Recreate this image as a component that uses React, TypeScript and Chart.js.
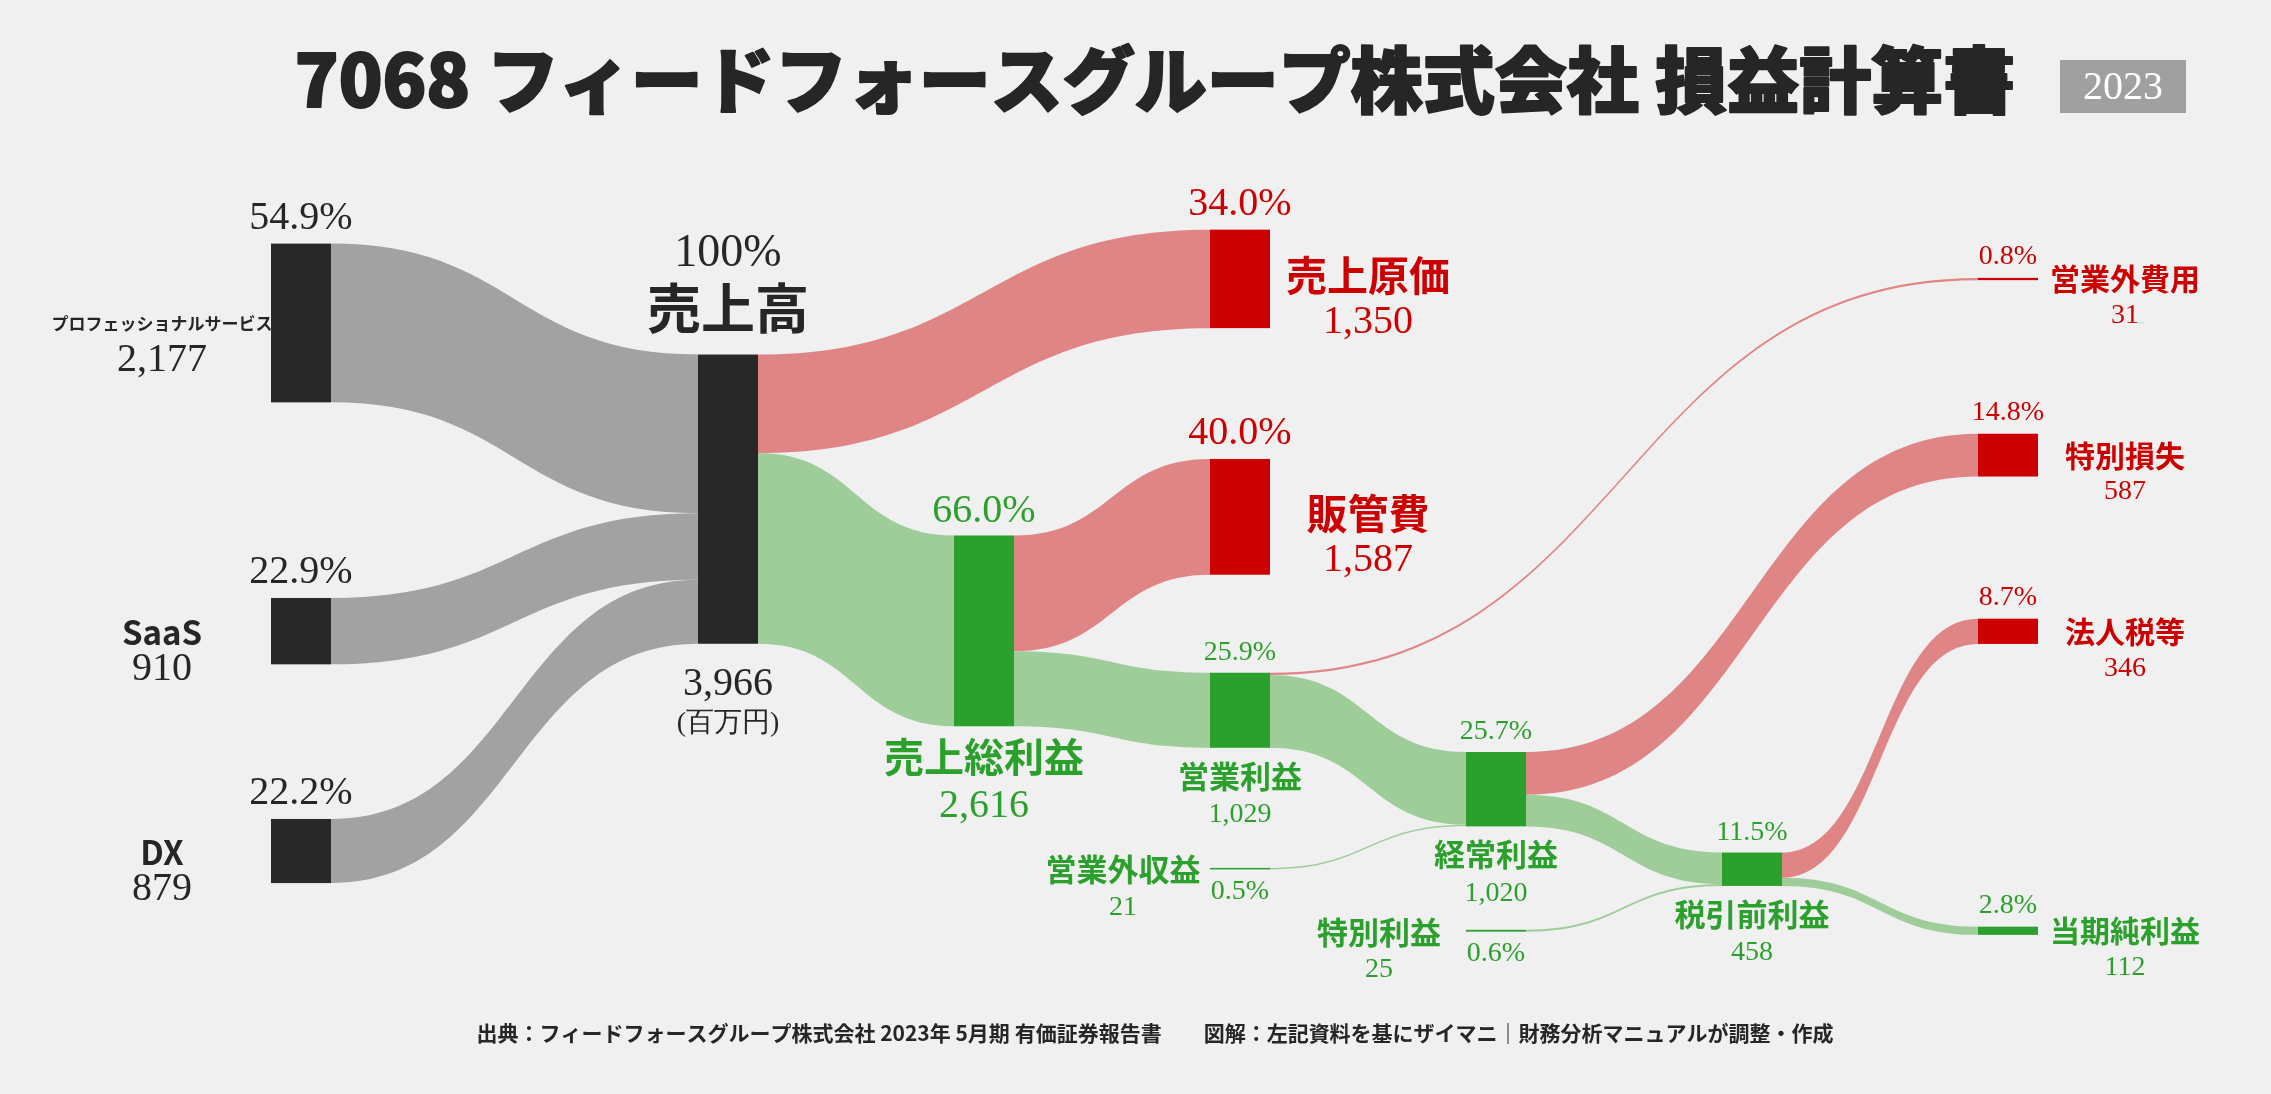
import React, { useEffect, useRef } from 'react';
import { Chart, registerables } from 'chart.js';

Chart.register(...registerables);

// ---------------- data ----------------
const TITLE = '7068 フィードフォースグループ株式会社 損益計算書';
const YEAR_LABEL = '2023';
const FOOTER =
  '出典：フィードフォースグループ株式会社 2023年 5月期 有価証券報告書　　図解：左記資料を基にザイマニ｜財務分析マニュアルが調整・作成';
const UNIT_LABEL = '(百万円)';

const NODE_NAMES = [
  'プロフェッショナルサービス', 'SaaS', 'DX', '売上高', '売上原価', '売上総利益', '販管費', '営業利益',
  '営業外収益', '営業外費用', '経常利益', '特別利益', '特別損失', '税引前利益', '法人税等', '当期純利益',
];
const NODE_VALUES = [2177, 910, 879, 3966, 1350, 2616, 1587, 1029, 21, 31, 1020, 25, 587, 458, 346, 112];
const NODE_PCT_LABELS = [
  '54.9%', '22.9%', '22.2%', '100%', '34.0%', '66.0%', '40.0%', '25.9%',
  '0.5%', '0.8%', '25.7%', '0.6%', '14.8%', '11.5%', '8.7%', '2.8%',
];
const NODE_VALUE_LABELS = [
  '2,177', '910', '879', '3,966', '1,350', '2,616', '1,587', '1,029',
  '21', '31', '1,020', '25', '587', '458', '346', '112',
];
const NODE_KIND = [
  'segment', 'segment', 'segment', 'revenue', 'cost', 'profit', 'cost', 'profit',
  'profit', 'cost', 'profit', 'profit', 'cost', 'profit', 'cost', 'profit',
];

const FLOW_SOURCE = [0, 1, 2, 3, 3, 5, 5, 7, 7, 8, 10, 10, 11, 13, 13];
const FLOW_TARGET = [3, 3, 3, 4, 5, 6, 7, 9, 10, 10, 12, 13, 13, 14, 15];
const FLOW_VALUE = [2177, 910, 879, 1350, 2616, 1587, 1029, 31, 998, 21, 587, 433, 25, 346, 112];

// ---------------- layout (positions / styles) ----------------
const W = 2271;
const H = 1094;
const BG = '#f0f0f0';
const COLUMN_X = [0, 1.668, 2.668, 3.668, 4.668, 5.668, 6.668];
const NODE_COLUMN = [0, 0, 0, 1, 3, 2, 3, 3, 3, 6, 4, 4, 6, 5, 6, 6];
const NODE_TOP = [3340, 8199, 11229, 4861, 3149, 7342, 6293, 9224, 11900, 3810, 10311, 12749, 5947, 11689, 8483, 12706];
const NODE_LABEL_STYLE = [
  'left', 'left', 'left', 'top', 'right', 'below', 'right', 'below',
  'leftBelow', 'right', 'below', 'leftBelow', 'right', 'below', 'right', 'right',
];
const NODE_LABEL_SIZE = ['L', 'L', 'L', 'XL', 'L', 'L', 'L', 'S', 'S', 'S', 'S', 'S', 'S', 'S', 'S', 'S'];
const NODE_NAME_FONT = [17, 33, 33, 54, 41, 40, 41, 31, 31, 30, 31, 31, 30, 31, 30, 30];
const NODE_W = 60;

const X_MIN = -301 / 256;
const X_MAX = X_MIN + W / 256;
const Y_MAX = 15000;

const SERIF = "'Liberation Serif', 'DejaVu Serif', serif";
const SANS = "'Noto Sans CJK JP', 'Noto Sans', sans-serif";

const NODE_COLOR: Record<string, string> = { segment: '#282828', revenue: '#282828', cost: '#cc0000', profit: '#2ca02c' };
const TEXT_COLOR: Record<string, string> = { segment: '#262626', revenue: '#262626', cost: '#cc0000', profit: '#2ca02c' };
const FLOW_COLOR: Record<string, string> = { segment: '#a2a2a2', revenue: '#a2a2a2', cost: '#e08585', profit: '#9ecd9a' };

function drawText(
  ctx: CanvasRenderingContext2D, s: string, x: number, y: number, font: string, color: string,
  stroke = 0,
) {
  ctx.font = font;
  ctx.fillStyle = color;
  ctx.textAlign = 'center';
  ctx.textBaseline = 'middle';
  if (stroke > 0) {
    ctx.strokeStyle = color;
    ctx.lineWidth = stroke;
    ctx.lineJoin = 'round';
    ctx.strokeText(s, x, y);
  }
  ctx.fillText(s, x, y);
}

const sankeyPlugin = {
  id: 'sankeyDraw',
  beforeDraw(chart: any) {
    const ctx = chart.ctx as CanvasRenderingContext2D;
    ctx.save();
    ctx.fillStyle = BG;
    ctx.fillRect(0, 0, chart.width, chart.height);
    ctx.restore();
  },
  afterDatasetsDraw(chart: any) {
    const ctx = chart.ctx as CanvasRenderingContext2D;
    const xs = chart.scales.x;
    const ys = chart.scales.y;
    ctx.save();

    const geo = NODE_VALUES.map((v, i) => {
      const cx = xs.getPixelForValue(COLUMN_X[NODE_COLUMN[i]]);
      const top = ys.getPixelForValue(NODE_TOP[i]);
      const bot = ys.getPixelForValue(NODE_TOP[i] + v);
      return { cx, top, bot, cy: (top + bot) / 2 };
    });
    const outOff = NODE_TOP.slice();
    const inOff = NODE_TOP.slice();

    // flows
    FLOW_VALUE.forEach((v, f) => {
      const s = FLOW_SOURCE[f];
      const t = FLOW_TARGET[f];
      const s0 = ys.getPixelForValue(outOff[s]);
      const s1 = ys.getPixelForValue(outOff[s] + v);
      outOff[s] += v;
      const t0 = ys.getPixelForValue(inOff[t]);
      const t1 = ys.getPixelForValue(inOff[t] + v);
      inOff[t] += v;
      const x0 = geo[s].cx + NODE_W / 2;
      const x1 = geo[t].cx - NODE_W / 2;
      const xm = (x0 + x1) / 2;
      ctx.beginPath();
      ctx.moveTo(x0, s0);
      ctx.bezierCurveTo(xm, s0, xm, t0, x1, t0);
      ctx.lineTo(x1, t1);
      ctx.bezierCurveTo(xm, t1, xm, s1, x0, s1);
      ctx.closePath();
      ctx.fillStyle = FLOW_COLOR[NODE_KIND[t]];
      ctx.fill();
    });

    // nodes
    geo.forEach((g, i) => {
      ctx.fillStyle = NODE_COLOR[NODE_KIND[i]];
      ctx.fillRect(g.cx - NODE_W / 2, g.top, NODE_W, Math.max(g.bot - g.top, 1.2));
    });

    // labels
    geo.forEach((g, i) => {
      const col = TEXT_COLOR[NODE_KIND[i]];
      const style = NODE_LABEL_STYLE[i];
      const size = NODE_LABEL_SIZE[i];
      const nameFont = `bold ${NODE_NAME_FONT[i]}px ${SANS}`;
      const numL = `40px ${SERIF}`;
      const numS = `28px ${SERIF}`;
      if (style === 'left') {
        drawText(ctx, NODE_PCT_LABELS[i], g.cx, g.top - 25, numL, col);
        drawText(ctx, NODE_NAMES[i], g.cx - 139, g.cy + 1, nameFont, col);
        drawText(ctx, NODE_VALUE_LABELS[i], g.cx - 139, g.cy + 38, numL, col);
      } else if (style === 'top') {
        drawText(ctx, NODE_PCT_LABELS[i], g.cx, g.top - 101, `46px ${SERIF}`, col);
        drawText(ctx, NODE_NAMES[i], g.cx, g.top - 46, nameFont, col);
        drawText(ctx, NODE_VALUE_LABELS[i], g.cx, g.bot + 41, numL, col);
        drawText(ctx, UNIT_LABEL, g.cx, g.bot + 80, `28px ${SERIF}`, col);
      } else if (style === 'below') {
        if (size === 'L') {
          drawText(ctx, NODE_PCT_LABELS[i], g.cx, g.top - 24, numL, col);
          drawText(ctx, NODE_NAMES[i], g.cx, g.bot + 31, nameFont, col);
          drawText(ctx, NODE_VALUE_LABELS[i], g.cx, g.bot + 80, numL, col);
        } else {
          drawText(ctx, NODE_PCT_LABELS[i], g.cx, g.top - 20, numS, col);
          drawText(ctx, NODE_NAMES[i], g.cx, g.bot + 28, nameFont, col);
          drawText(ctx, NODE_VALUE_LABELS[i], g.cx, g.bot + 67, numS, col);
        }
      } else if (style === 'right') {
        if (size === 'L') {
          drawText(ctx, NODE_PCT_LABELS[i], g.cx, g.top - 25, numL, col);
          drawText(ctx, NODE_NAMES[i], g.cx + 128, g.cy - 3, nameFont, col);
          drawText(ctx, NODE_VALUE_LABELS[i], g.cx + 128, g.cy + 44, numL, col);
        } else {
          drawText(ctx, NODE_PCT_LABELS[i], g.cx, g.top - 21, numS, col);
          drawText(ctx, NODE_NAMES[i], g.cx + 117, g.cy, nameFont, col);
          drawText(ctx, NODE_VALUE_LABELS[i], g.cx + 117, g.cy + 37, numS, col);
        }
      } else if (style === 'leftBelow') {
        drawText(ctx, NODE_NAMES[i], g.cx - 117, g.cy + 1, nameFont, col);
        drawText(ctx, NODE_VALUE_LABELS[i], g.cx - 117, g.cy + 39, numS, col);
        drawText(ctx, NODE_PCT_LABELS[i], g.cx, g.bot + 22, numS, col);
      }
    });

    // title
    drawText(ctx, TITLE, 1155, 80, `900 72px ${SANS}`, '#262626', 2);
    ctx.fillStyle = '#a0a0a0';
    ctx.fillRect(2060, 60, 126, 53);
    drawText(ctx, YEAR_LABEL, 2123, 88, `40px ${SERIF}`, '#ffffff');

    // footer
    drawText(ctx, FOOTER, 1155, 1033, `bold 21px ${SANS}`, '#262626');

    ctx.restore();
  },
};

export default function App() {
  const ref = useRef<HTMLCanvasElement>(null);
  useEffect(() => {
    document.body.style.margin = '0';
    document.body.style.overflow = 'hidden';
    const chart = new Chart(ref.current as HTMLCanvasElement, {
      type: 'scatter',
      data: {
        datasets: [
          {
            data: NODE_VALUES.map((v, i) => ({ x: COLUMN_X[NODE_COLUMN[i]], y: NODE_TOP[i] + v / 2 })),
            pointRadius: 0,
            pointHoverRadius: 0,
          },
        ],
      },
      options: {
        animation: false,
        responsive: false,
        events: [],
        layout: { padding: 0 },
        scales: {
          x: { type: 'linear', display: false, min: X_MIN, max: X_MAX },
          y: { type: 'linear', display: false, min: 0, max: Y_MAX, reverse: true },
        },
        plugins: {
          legend: { display: false },
          tooltip: { enabled: false },
          title: { display: false },
        },
      },
      plugins: [sankeyPlugin],
    } as any);
    return () => chart.destroy();
  }, []);
  return (
    <div style={{ position: 'absolute', left: 0, top: 0, width: W, height: H, background: BG }}>
      <canvas ref={ref} width={W} height={H} style={{ display: 'block', width: W, height: H }} />
    </div>
  );
}
